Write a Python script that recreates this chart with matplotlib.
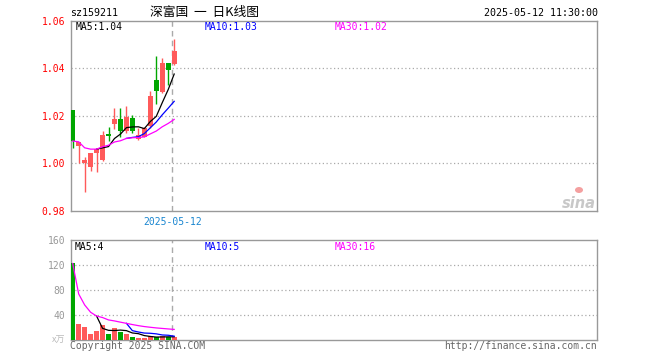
import matplotlib
matplotlib.use("Agg")
import matplotlib.pyplot as plt
import numpy as np
import pandas as pd
from matplotlib.patches import Ellipse

# ---------------- data ----------------
code = "sz159211"
title = "深富国  一  日K线图"
stamp = "2025-05-12 11:30:00"
date_label = "2025-05-12"

opens  = [1.0223, 1.0075, 1.0003, 0.9987, 1.0043, 1.0014, 1.0122, 1.0167, 1.0185,
          1.0136, 1.0192, 1.0101, 1.0113, 1.0157, 1.0352, 1.0301, 1.0424, 1.0418]
highs  = [1.0223, 1.0088, 1.0025, 1.0043, 1.0065, 1.0136, 1.0153, 1.0234, 1.0234,
          1.0241, 1.0202, 1.0150, 1.0152, 1.0303, 1.0452, 1.0443, 1.0424, 1.0523]
lows   = [1.0063, 1.0000, 0.9881, 0.9968, 0.9963, 1.0011, 1.0094, 1.0143, 1.0109,
          1.0129, 1.0127, 1.0099, 1.0110, 1.0150, 1.0248, 1.0296, 1.0331, 1.0415]
closes = [1.0094, 1.0088, 1.0015, 1.0043, 1.0060, 1.0121, 1.0115, 1.0185, 1.0136,
          1.0195, 1.0136, 1.0118, 1.0147, 1.0285, 1.0303, 1.0424, 1.0394, 1.0473]
volumes = [122.6, 24.5, 20.2, 8.5, 13.3, 23.4, 8.5, 18.6, 12.0,
           9.0, 4.5, 3.0, 3.0, 5.0, 4.0, 5.5, 4.0, 3.5]   # 万

price_ticks = [0.98, 1.00, 1.02, 1.04, 1.06]
price_grid = [1.00, 1.02, 1.04]
vol_ticks = [40, 80, 120, 160]
vol_grid = [40, 80, 120]

# ---------------- styles ----------------
RED = "#ff5a5a"
GREEN = "#00a600"
FRAME = "#999999"
GRID = "#aaaaaa"
MONO = "DejaVu Sans Mono"
W, H = 660, 360

n = len(closes)
x = np.arange(n)
df = pd.DataFrame({"o": opens, "h": highs, "l": lows, "c": closes, "v": volumes})
ma5 = df.c.rolling(5).mean()
ma10 = df.c.rolling(10).mean()
ma30 = df.c.rolling(30, min_periods=1).mean()
vma5 = df.v.rolling(5).mean()
vma10 = df.v.rolling(10).mean()
vma30 = df.v.rolling(30, min_periods=1).mean()
up = df.c >= df.o
colors = [RED if u else GREEN for u in up]

fig = plt.figure(figsize=(W / 100, H / 100), dpi=100)
fig.patch.set_facecolor("white")

def fx(px):
    return px / W

def fy(py):
    return 1 - py / H

left, right = 70.7, 597.3
ax1 = fig.add_axes([fx(left), fy(211.0), fx(right - left), (211.0 - 20.7) / H])
ax2 = fig.add_axes([fx(left), fy(339.5), fx(right - left), (339.5 - 240.3) / H])

xlim = (-0.335, 87.87)
for ax in (ax1, ax2):
    ax.set_xlim(*xlim)
    ax.set_xticks([])
    for s in ax.spines.values():
        s.set_color(FRAME)
        s.set_linewidth(1.0)
    ax.tick_params(axis="y", length=0, pad=4)

# ---- price panel ----
ax1.set_ylim(0.98, 1.06)
for g in price_grid:
    ax1.axhline(g, color=GRID, lw=0.9, ls=(0, (1, 2)), zorder=0)
bw = 0.8
ax1.vlines(x, df.l, df.h, colors=colors, lw=1.0, zorder=2)
body_bottom = np.minimum(df.o, df.c)
body_h = np.maximum(np.abs(df.c - df.o), 0.0004)
ax1.bar(x, body_h, bottom=body_bottom, width=bw, color=colors, zorder=3, linewidth=0)
ax1.plot(x, ma5, color="black", lw=0.9, zorder=4)
ax1.plot(x, ma10, color="#0000ff", lw=0.9, zorder=4)
ax1.plot(x, ma30, color="#ff00ff", lw=0.9, zorder=4)
vline_x = x[-1] - 0.32
ax1.axvline(vline_x, color=GRID, lw=1.0, ls=(0, (4, 3)), zorder=1)
ax1.set_yticks(price_ticks)
ax1.set_yticklabels([f"{t:.2f}" for t in price_ticks], color="red",
                    fontfamily=MONO, fontsize=7)

# ---- volume panel ----
ax2.set_ylim(0, 160)
for g in vol_grid:
    ax2.axhline(g, color=GRID, lw=0.9, ls=(0, (1, 2)), zorder=0)
ax2.bar(x, df.v, width=bw, color=colors, zorder=3, linewidth=0)
ax2.plot(x, vma5, color="black", lw=0.9, zorder=4)
ax2.plot(x, vma10, color="#0000ff", lw=0.9, zorder=4)
ax2.plot(x, vma30, color="#ff00ff", lw=0.9, zorder=4)
ax2.axvline(vline_x, color=GRID, lw=1.0, ls=(0, (4, 3)), zorder=1)
ax2.set_yticks(vol_ticks)
ax2.set_yticklabels([str(t) for t in vol_ticks], color="#999999",
                    fontfamily=MONO, fontsize=7)

# ---- texts ----
fig.text(fx(70), fy(13.5), code, fontfamily=MONO, fontsize=7.2, va="center", ha="left")
fig.text(fx(150), fy(12.5), title, fontfamily=["Noto Sans CJK SC", "DejaVu Sans"],
         fontsize=9.2, va="center", ha="left")
fig.text(fx(598), fy(13.5), stamp, fontfamily=MONO, fontsize=7.2, va="center", ha="right")

fig.text(fx(76), fy(26.5), f"MA5:{ma5.iloc[-1]:.2f}", fontfamily=MONO, fontsize=7,
         va="center", color="black")
fig.text(fx(204.3), fy(26.5), f"MA10:{ma10.iloc[-1]:.2f}", fontfamily=MONO, fontsize=7,
         va="center", color="#0000ff")
fig.text(fx(335), fy(26.5), f"MA30:{ma30.iloc[-1]:.2f}", fontfamily=MONO, fontsize=7,
         va="center", color="#ff00ff")

fig.text(fx(75), fy(246.5), f"MA5:{vma5.iloc[-1]:.0f}", fontfamily=MONO, fontsize=7,
         va="center", color="black")
fig.text(fx(204.3), fy(246.5), f"MA10:{vma10.iloc[-1]:.0f}", fontfamily=MONO, fontsize=7,
         va="center", color="#0000ff")
fig.text(fx(334.7), fy(246.5), f"MA30:{vma30.iloc[-1]:.0f}", fontfamily=MONO, fontsize=7,
         va="center", color="#ff00ff")

# date under dashed line
ax1.text(vline_x, -0.03, date_label, transform=ax1.get_xaxis_transform(),
         ha="center", va="top", fontfamily=MONO, fontsize=7, color="#1a86d0")

fig.text(fx(65), fy(340), "x万", fontfamily=["Noto Sans CJK SC", "DejaVu Sans"],
         fontsize=6.5, va="center", ha="right", color="#bbbbbb")
fig.text(fx(70), fy(346), "Copyright 2025 SINA.COM", fontfamily=MONO, fontsize=7,
         va="center", ha="left", color="#666666")
fig.text(fx(597.3), fy(346), "http://finance.sina.com.cn", fontfamily=MONO, fontsize=7,
         va="center", ha="right", color="#666666")

# sina watermark
fig.text(fx(596), fy(203), "sina", fontfamily="DejaVu Sans", fontsize=10.5,
         fontweight="bold", fontstyle="italic", color="#c8c8c8", ha="right", va="center")
fig.patches.append(Ellipse((fx(579), fy(190)), 8 / W, 6 / H, transform=fig.transFigure,
                           facecolor="#f4a0a0", edgecolor="none"))

fig.savefig("out.png", dpi=100, facecolor="white")
